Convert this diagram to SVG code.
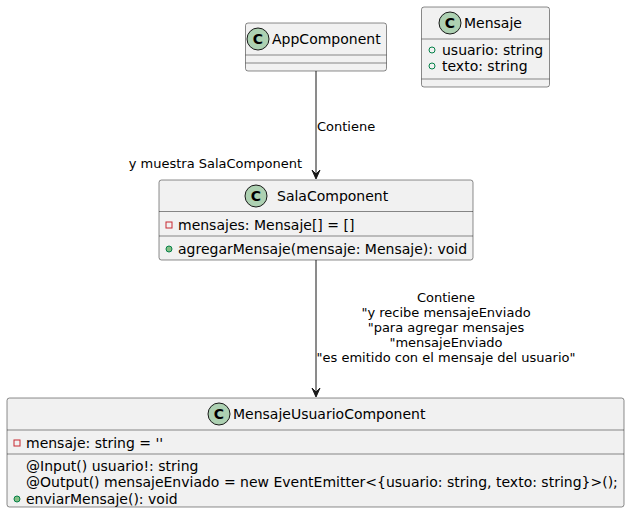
<svg xmlns="http://www.w3.org/2000/svg" width="631" height="516" viewBox="0 0 631 516">
<style>
.box{fill:#F1F1F1;stroke:#181818;stroke-width:0.5}
.sep{stroke:#181818;stroke-width:0.5}
.spot{fill:#ADD1B2;stroke:#181818;stroke-width:1}
.spotc{font-family:"DejaVu Sans",sans-serif;font-size:14px;font-weight:bold;fill:#000;text-anchor:middle}
.name{font-family:"DejaVu Sans",sans-serif;font-size:14px;fill:#000}
.mem{font-family:"DejaVu Sans",sans-serif;font-size:14px;fill:#000}
.lbl{font-family:"DejaVu Sans",sans-serif;font-size:13px;fill:#000}
.priv{fill:none;stroke:#C82930;stroke-width:1}
.pubf{fill:none;stroke:#038048;stroke-width:1}
.pubm{fill:#84BE84;stroke:#038048;stroke-width:1}
.edge{stroke:#181818;stroke-width:1;fill:none}
.head{fill:#181818;stroke:#181818;stroke-width:1}
</style>
<g id="connectors">
<path class="edge" d="M316,71 L316,178"/>
<polygon class="head" points="316,179 312,170 316,174 320,170"/>
<text class="lbl" x="317" y="131">Contiene</text>
<text class="lbl" x="302" y="168" text-anchor="end">y muestra SalaComponent</text>
<path class="edge" d="M316,260 L316,396"/>
<polygon class="head" points="316,397 312,388 316,392 320,388"/>
<g class="lbl" text-anchor="middle">
<text x="446" y="302">Contiene</text>
<text x="446" y="317">"y recibe mensajeEnviado</text>
<text x="446" y="332">"para agregar mensajes</text>
<text x="446" y="347">"mensajeEnviado</text>
<text x="446" y="362">"es emitido con el mensaje del usuario"</text>
</g>
</g>
<g id="AppComponent">
<rect class="box" x="245.5" y="23" width="141" height="48" rx="2.5"/>
<circle class="spot" cx="258" cy="39" r="11"/>
<text class="spotc" x="258" y="44">C</text>
<text class="name" x="272" y="44">AppComponent</text>
<line class="sep" x1="245.5" y1="55" x2="386.5" y2="55"/>
<line class="sep" x1="245.5" y1="63" x2="386.5" y2="63"/>
</g>
<g id="Mensaje">
<rect class="box" x="421.5" y="7" width="128" height="80" rx="2.5"/>
<circle class="spot" cx="450" cy="23" r="11"/>
<text class="spotc" x="450" y="28">C</text>
<text class="name" x="464" y="28">Mensaje</text>
<line class="sep" x1="421.5" y1="39" x2="549.5" y2="39"/>
<circle class="pubf" cx="432" cy="50" r="3"/>
<text class="mem" x="442" y="55">usuario: string</text>
<circle class="pubf" cx="432" cy="66" r="3"/>
<text class="mem" x="442" y="71">texto: string</text>
<line class="sep" x1="421.5" y1="79" x2="549.5" y2="79"/>
</g>
<g id="SalaComponent">
<rect class="box" x="159" y="180" width="314" height="80" rx="2.5"/>
<circle class="spot" cx="256" cy="196" r="11"/>
<text class="spotc" x="256" y="201">C</text>
<text class="name" x="277" y="201">SalaComponent</text>
<line class="sep" x1="159" y1="211.5" x2="473" y2="211.5"/>
<rect class="priv" x="166" y="222" width="6" height="6"/>
<text class="mem" x="178" y="230">mensajes: Mensaje[] = []</text>
<line class="sep" x1="159" y1="236" x2="473" y2="236"/>
<circle class="pubm" cx="169" cy="249" r="3"/>
<text class="mem" x="178" y="254">agregarMensaje(mensaje: Mensaje): void</text>
</g>
<g id="MensajeUsuarioComponent">
<rect class="box" x="7" y="398" width="617" height="109" rx="2.5"/>
<circle class="spot" cx="219" cy="414" r="11"/>
<text class="spotc" x="219" y="419">C</text>
<text class="name" x="233" y="419">MensajeUsuarioComponent</text>
<line class="sep" x1="7" y1="430" x2="624" y2="430"/>
<rect class="priv" x="14" y="440" width="6" height="6"/>
<text class="mem" x="26" y="448">mensaje: string = ''</text>
<line class="sep" x1="7" y1="454" x2="624" y2="454"/>
<text class="mem" x="26" y="471">@Input() usuario!: string</text>
<text class="mem" x="26" y="487">@Output() mensajeEnviado = new EventEmitter&lt;{usuario: string, texto: string}&gt;();</text>
<circle class="pubm" cx="17" cy="499" r="3"/>
<text class="mem" x="26" y="504">enviarMensaje(): void</text>
</g>
</svg>
